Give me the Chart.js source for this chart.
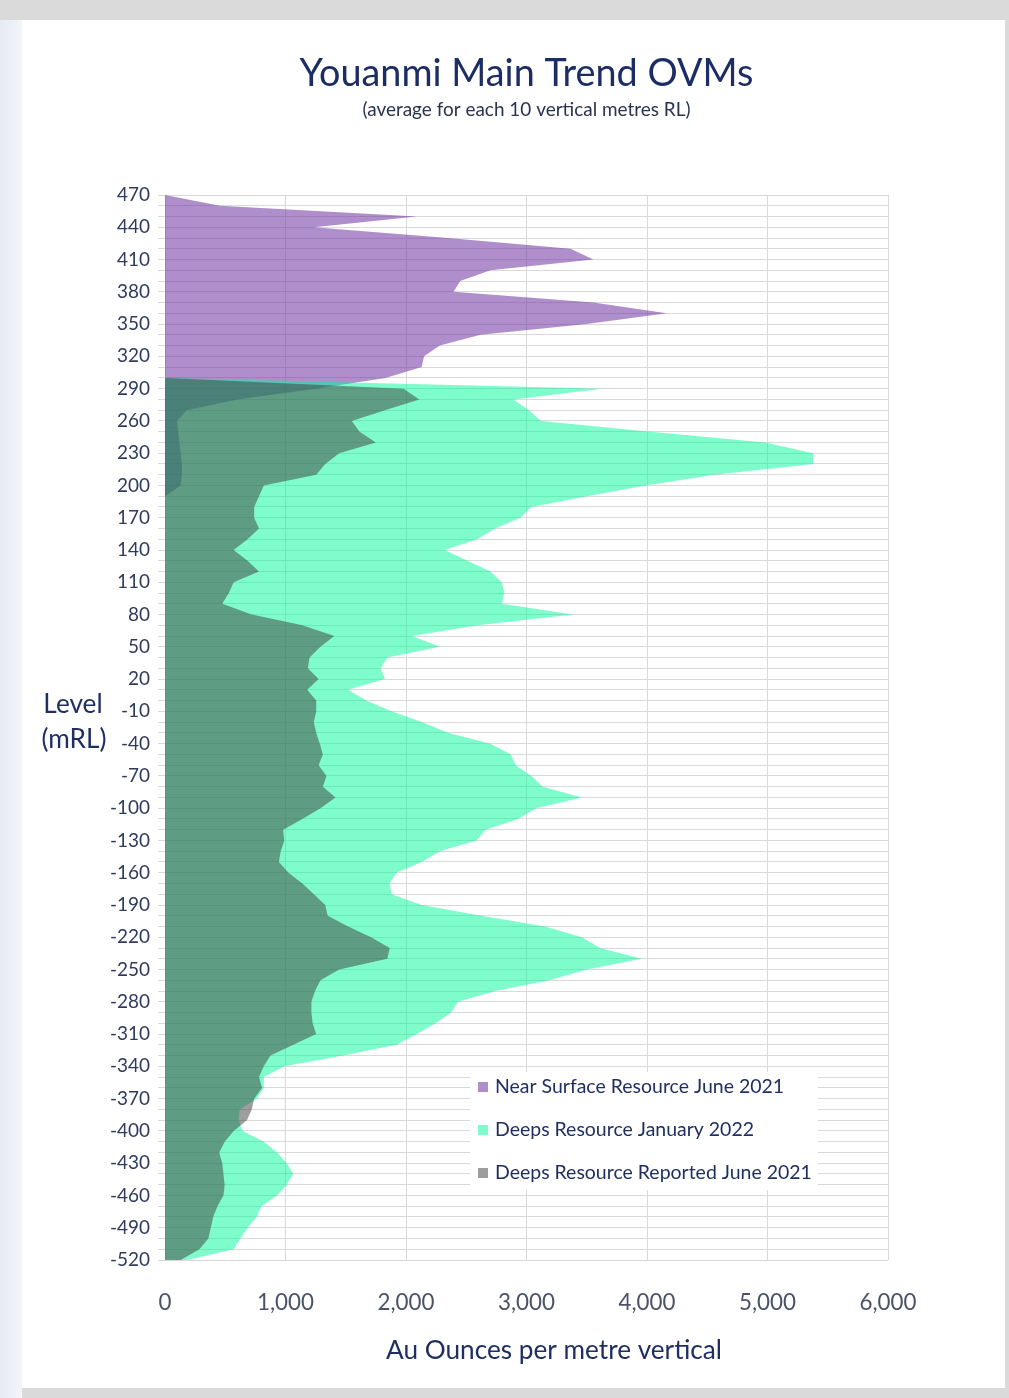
<!DOCTYPE html>
<html><head><meta charset="utf-8">
<script src="https://cdn.jsdelivr.net/npm/chart.js@4.4.1/dist/chart.umd.min.js"></script>
<style>
html,body{margin:0;padding:0;}
body{width:1009px;height:1398px;background:#dadada;position:relative;overflow:hidden;}
#edge{position:absolute;left:0;top:20px;width:22px;height:1378px;background:linear-gradient(to right,#e6eaf1,#f3f5f8);}
#panel{position:absolute;left:22px;top:20px;width:983px;height:1368px;background:#ffffff;}
#c{position:absolute;left:0;top:0;}
</style></head><body>
<div id="edge"></div><div id="panel"></div>
<canvas id="c" width="1009" height="1398"></canvas>
<script>
// ---------- DATA ----------
const levels = ['470','460','450','440','430','420','410','400','390','380',
  '370','360','350','340','330','320','310','300','290','280',
  '270','260','250','240','230','220','210','200','190','180',
  '170','160','150','140','130','120','110','100','90','80',
  '70','60','50','40','30','20','10','0','-10','-20',
  '-30','-40','-50','-60','-70','-80','-90','-100','-110','-120',
  '-130','-140','-150','-160','-170','-180','-190','-200','-210','-220',
  '-230','-240','-250','-260','-270','-280','-290','-300','-310','-320',
  '-330','-340','-350','-360','-370','-380','-390','-400','-410','-420',
  '-430','-440','-450','-460','-470','-480','-490','-500','-510','-520'];

// Near Surface Resource June 2021 (470 .. 190)
const nearSurfaceJun2021 = [
  0, 456, 2090, 1236, 2350, 3365, 3555, 2700, 2450, 2395,
  3555, 4163, 3500, 2620, 2280, 2150, 2130, 1830, 1250, 600,
  180, 100, 110, 120, 130, 140, 140, 130, 0];

// Deeps Resource January 2022 (300 .. -520)
const deepsJan2022 = [
  null,null,null,null,null,null,null,null,null,null,null,null,null,null,null,null,null,
  0, 3630, 2890, 3020, 3120, 4030, 4980, 5380, 5380, 4560,
  3990, 3500, 3040, 2950, 2740, 2590, 2320, 2510, 2700, 2795,
  2815, 2795, 3385, 2600, 2050, 2280, 1845, 1790, 1825, 1520,
  1670, 1880, 2130, 2355, 2700, 2870, 2910, 3040, 3135, 3460,
  3080, 2930, 2660, 2585, 2280, 2130, 1920, 1865, 1880, 2130,
  2625, 3155, 3460, 3610, 3955, 3500, 3190, 2740, 2430, 2375,
  2245, 2090, 1920, 1480, 990, 820, 820, 760, 620, 610,
  645, 820, 930, 1010, 1065, 1010, 930, 800, 760, 685,
  625, 570, 180];

// Deeps Resource Reported June 2021 (300 .. -520)
const deepsReportedJun2021 = [
  null,null,null,null,null,null,null,null,null,null,null,null,null,null,null,null,null,
  0, 1980, 2110, 1825, 1550, 1615, 1750, 1445, 1330, 1255,
  820, 780, 740, 740, 780, 685, 570, 685, 780, 570,
  530, 475, 720, 1140, 1405, 1290, 1200, 1185, 1275, 1180,
  1255, 1255, 1235, 1255, 1285, 1310, 1275, 1340, 1310, 1415,
  1290, 1140, 980, 990, 960, 945, 1025, 1140, 1235, 1330,
  1350, 1520, 1710, 1865, 1845, 1445, 1290, 1245, 1215, 1215,
  1225, 1255, 1065, 875, 820, 780, 805, 740, 720, 680,
  570, 495, 450, 475, 485, 495, 485, 435, 400, 380,
  360, 285, 130];

const xTicks = [0, 1000, 2000, 3000, 4000, 5000, 6000];
const seriesNames = ['Near Surface Resource June 2021', 'Deeps Resource January 2022', 'Deeps Resource Reported June 2021'];
const titleText = 'Youanmi Main Trend OVMs';
const subtitleText = '(average for each 10 vertical metres RL)';
const xTitleText = 'Au Ounces per metre vertical';
const yTitleLines = ['Level', '(mRL)'];

// ---------- STYLE ----------
const FAMILY = 'Lato, "Open Sans", sans-serif';
const colors = ['rgba(112,48,160,0.55)', 'rgba(0,250,154,0.5)', 'rgba(62,62,62,0.5)'];
const mctx = document.createElement('canvas').getContext('2d');
function fitSize(text, width) { mctx.font = '100px Lato'; return 100 * width / mctx.measureText(text).width; }
const tSize = fitSize(titleText, 454);
const sSize = fitSize(subtitleText, 328);
const xtSize = fitSize(xTitleText, 336);
const ytSize = fitSize('(mRL)', 65);
const legSize = fitSize(seriesNames[2], 317);
const xTickSize = fitSize('1,000', 57);
const yTickSize = fitSize('470', 33);

const overlay = {
  id: 'overlay',
  afterDraw(chart) {
    const { ctx, chartArea: a } = chart;
    ctx.save();
    // axis titles
    ctx.fillStyle = '#1f2f63';
    ctx.textAlign = 'center';
    ctx.textBaseline = 'middle';
    ctx.font = xtSize + 'px ' + FAMILY;
    ctx.fillText(xTitleText, a.left + 389, a.bottom + 91);
    ctx.font = ytSize + 'px ' + FAMILY;
    ctx.fillText(yTitleLines[0], a.left - 92, a.top + 510);
    ctx.fillText(yTitleLines[1], a.left - 91, a.top + 545);
    // legend inside plot
    const lx = a.left + 305, ly = a.top + 877;
    ctx.fillStyle = '#ffffff';
    ctx.fillRect(lx, ly, 348, 118);
    ctx.font = legSize + 'px ' + FAMILY;
    ctx.textAlign = 'left';
    chart.data.datasets.forEach((ds, i) => {
      const cy = ly + 15 + i * 43;
      ctx.fillStyle = ds.backgroundColor;
      ctx.fillRect(lx + 8, cy - 5, 10, 10);
      ctx.fillStyle = '#1f2f63';
      ctx.fillText(ds.label, lx + 25, cy);
    });
    ctx.restore();
  }
};

const baseDs = { fill: 'origin', borderWidth: 0, borderColor: 'rgba(0,0,0,0)', pointRadius: 0, pointHoverRadius: 0, tension: 0 };

new Chart(document.getElementById('c'), {
  type: 'line',
  data: {
    labels: levels,
    datasets: [
      Object.assign({ label: seriesNames[0], data: nearSurfaceJun2021, backgroundColor: colors[0], order: 3 }, baseDs),
      Object.assign({ label: seriesNames[1], data: deepsJan2022, backgroundColor: colors[1], order: 2 }, baseDs),
      Object.assign({ label: seriesNames[2], data: deepsReportedJun2021, backgroundColor: colors[2], order: 1 }, baseDs)
    ]
  },
  options: {
    indexAxis: 'y',
    responsive: false,
    devicePixelRatio: 1,
    animation: false,
    layout: { padding: { left: 0, right: 121, top: 0, bottom: 0 } },
    plugins: {
      legend: { display: false },
      tooltip: { enabled: false },
      title: {
        display: true, text: titleText, fullSize: false, color: '#1c2d66',
        font: { family: FAMILY, size: tSize, weight: 'normal', lineHeight: 1.2 },
        padding: { top: 74 - 0.6 * tSize, bottom: 0 }
      },
      subtitle: {
        display: true, text: subtitleText, fullSize: false, color: '#2a3350',
        font: { family: FAMILY, size: sSize, weight: 'normal', lineHeight: 1.2 },
        padding: { top: 110 - 0.6 * sSize - (74 + 0.6 * tSize), bottom: 195 - 110 - 0.6 * sSize }
      }
    },
    scales: {
      x: {
        type: 'linear', position: 'bottom', min: xTicks[0], max: xTicks[xTicks.length - 1],
        afterBuildTicks: s => { s.ticks = xTicks.map(v => ({ value: v })); },
        afterFit: s => { s.height = 138; },
        ticks: { callback: v => Number(v).toLocaleString('en-US'), color: '#4a5268', maxRotation: 0,
                 font: { family: FAMILY, size: xTickSize }, padding: 43 - 0.6 * xTickSize },
        grid: { color: '#d9d9d9', drawTicks: false },
        border: { display: false }
      },
      y: {
        type: 'category', position: 'left',
        afterFit: s => { s.width = 165; },
        ticks: { autoSkip: false, callback: (v, i) => (i % 3 === 0 ? levels[i] : ''), color: '#2f3b5e',
                 font: { family: FAMILY, size: yTickSize }, padding: 8 },
        grid: { color: '#d9d9d9', drawTicks: true, tickLength: 7 },
        border: { display: false }
      }
    }
  },
  plugins: [overlay]
});
</script></body></html>
